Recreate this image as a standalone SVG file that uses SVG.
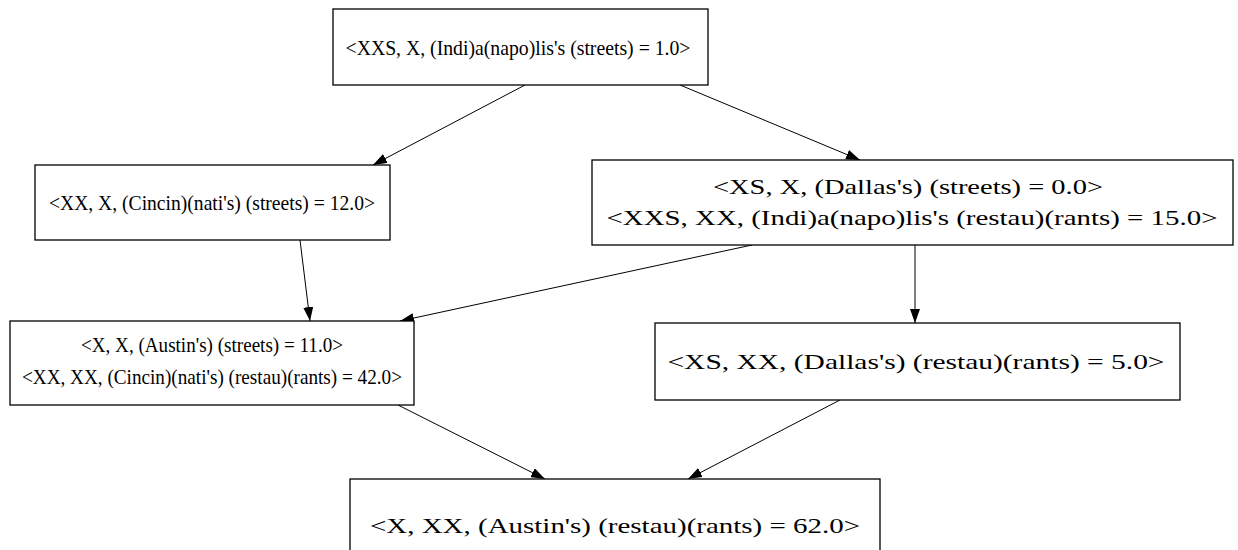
<svg xmlns="http://www.w3.org/2000/svg" width="1238" height="550" viewBox="0 0 1238 550">
<defs>
<style>
.box{fill:#fff;stroke:#000;stroke-width:1.3}
.t{font-family:"Liberation Serif","Times New Roman",serif;font-size:22px;fill:#000;text-anchor:middle}
.e{fill:none;stroke:#000;stroke-width:1;marker-end:url(#ah)}
</style>
<marker id="ah" markerWidth="14" markerHeight="10" refX="14" refY="5" orient="auto" markerUnits="userSpaceOnUse">
<path d="M0,0 L14,5 L0,10 Z" fill="#000"/>
</marker>
</defs>
<rect width="1238" height="550" fill="#fff"/>
<g id="edges">
<line class="e" x1="525" y1="85" x2="373" y2="165"/>
<line class="e" x1="680" y1="85" x2="860" y2="160"/>
<line class="e" x1="300" y1="240" x2="310" y2="321"/>
<line class="e" x1="752" y1="245" x2="400" y2="321"/>
<line class="e" x1="915" y1="245" x2="915" y2="323"/>
<line class="e" x1="398" y1="405" x2="545" y2="479"/>
<line class="e" x1="840" y1="400" x2="688" y2="479"/>
</g>
<g id="n1">
<rect class="box" x="333" y="9" width="375" height="76"/>
<text class="t" x="518" y="55" textLength="345" lengthAdjust="spacingAndGlyphs">&lt;XXS, X, (Indi)a(napo)lis's (streets) = 1.0&gt;</text>
</g>
<g id="n2">
<rect class="box" x="35" y="165" width="355" height="75"/>
<text class="t" x="212" y="210" textLength="326" lengthAdjust="spacingAndGlyphs">&lt;XX, X, (Cincin)(nati's) (streets) = 12.0&gt;</text>
</g>
<g id="n3">
<rect class="box" x="592" y="160" width="641" height="85"/>
<text class="t" x="908" y="194" textLength="390" lengthAdjust="spacingAndGlyphs">&lt;XS, X, (Dallas's) (streets) = 0.0&gt;</text>
<text class="t" x="912" y="225" textLength="611" lengthAdjust="spacingAndGlyphs">&lt;XXS, XX, (Indi)a(napo)lis's (restau)(rants) = 15.0&gt;</text>
</g>
<g id="n4">
<rect class="box" x="10" y="321" width="404" height="84"/>
<text class="t" x="212" y="352" textLength="262" lengthAdjust="spacingAndGlyphs">&lt;X, X, (Austin's) (streets) = 11.0&gt;</text>
<text class="t" x="212" y="384" textLength="380" lengthAdjust="spacingAndGlyphs">&lt;XX, XX, (Cincin)(nati's) (restau)(rants) = 42.0&gt;</text>
</g>
<g id="n5">
<rect class="box" x="655" y="323" width="525" height="77"/>
<text class="t" x="916" y="369" textLength="497" lengthAdjust="spacingAndGlyphs">&lt;XS, XX, (Dallas's) (restau)(rants) = 5.0&gt;</text>
</g>
<g id="n6">
<rect class="box" x="350" y="479" width="530" height="90"/>
<text class="t" x="615" y="533" textLength="490" lengthAdjust="spacingAndGlyphs">&lt;X, XX, (Austin's) (restau)(rants) = 62.0&gt;</text>
</g>
</svg>
